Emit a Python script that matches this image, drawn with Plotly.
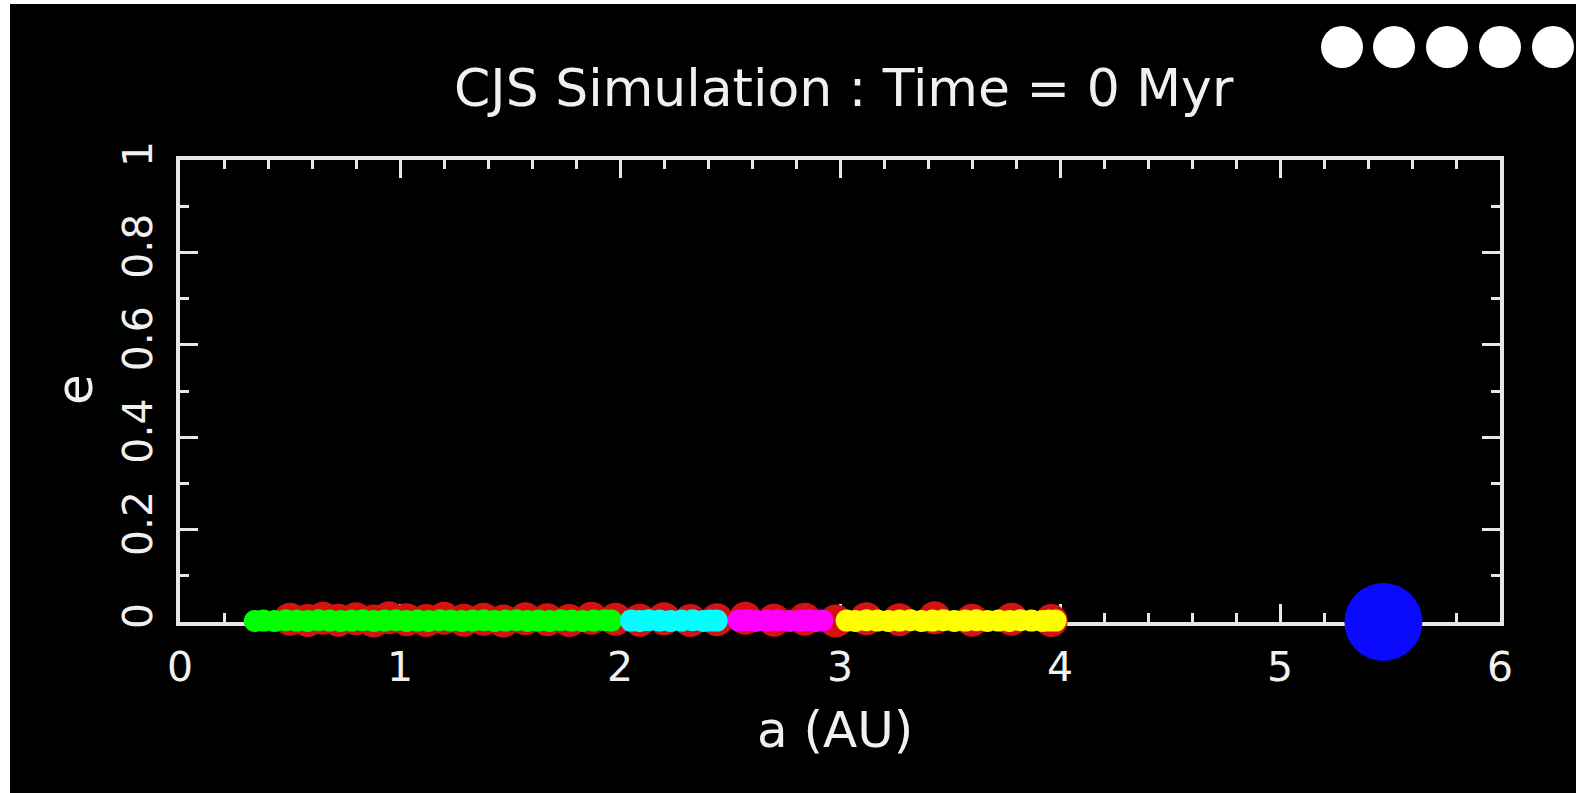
import plotly.graph_objects as go

# ---- data ----
title_text = "CJS Simulation : Time = 0 Myr"
x_title = "a (AU)"
y_title = "e"
x_ticks = [0, 1, 2, 3, 4, 5, 6]
y_ticks = [0, 0.2, 0.4, 0.6, 0.8, 1.0]
y_ticktext = ["0", "0.2", "0.4", "0.6", "0.8", "1"]

# planetary embryos (red)
embryo_a = [0.50, 0.58, 0.65, 0.72, 0.80, 0.88, 0.95, 1.03, 1.12, 1.20, 1.29, 1.38,
            1.47, 1.57, 1.67, 1.77, 1.87, 1.98, 2.09, 2.20, 2.32, 2.44, 2.57, 2.70,
            2.84, 2.98, 3.12, 3.27, 3.43, 3.60, 3.78, 3.96]
embryo_e = [0.006, 0.003, 0.008, 0.004, 0.007, 0.002, 0.009, 0.005, 0.003, 0.008, 0.004, 0.006,
            0.002, 0.007, 0.005, 0.003, 0.008, 0.006, 0.004, 0.007, 0.003, 0.005, 0.008, 0.004,
            0.006, 0.002, 0.007, 0.005, 0.009, 0.004, 0.006, 0.003]

# planetesimals, by zone
green_a = [0.34, 0.38, 0.43, 0.48, 0.53, 0.58, 0.63, 0.68, 0.73, 0.78, 0.83, 0.88,
           0.93, 0.98, 1.03, 1.08, 1.13, 1.18, 1.23, 1.28, 1.33, 1.38, 1.43, 1.48,
           1.53, 1.58, 1.63, 1.68, 1.73, 1.78, 1.83, 1.88, 1.93, 1.96]
green_e = [0.002, 0.003, 0.002, 0.004, 0.003, 0.002, 0.004, 0.003, 0.002, 0.003, 0.004, 0.002,
           0.003, 0.004, 0.002, 0.003, 0.002, 0.004, 0.003, 0.002, 0.003, 0.004, 0.002, 0.003,
           0.004, 0.002, 0.003, 0.002, 0.004, 0.003, 0.002, 0.003, 0.004, 0.003]
cyan_a = [2.05, 2.09, 2.13, 2.18, 2.23, 2.28, 2.33, 2.38, 2.41, 2.44]
cyan_e = [0.003, 0.002, 0.004, 0.003, 0.002, 0.003, 0.004, 0.002, 0.003, 0.003]
magenta_a = [2.54, 2.58, 2.62, 2.67, 2.72, 2.77, 2.82, 2.86, 2.89, 2.92]
magenta_e = [0.003, 0.004, 0.002, 0.003, 0.004, 0.002, 0.003, 0.004, 0.002, 0.003]
yellow_a = [3.03, 3.07, 3.12, 3.17, 3.22, 3.27, 3.32, 3.37, 3.42, 3.47, 3.52, 3.57,
            3.62, 3.67, 3.72, 3.77, 3.82, 3.87, 3.92, 3.95, 3.98]
yellow_e = [0.003, 0.002, 0.004, 0.003, 0.002, 0.003, 0.004, 0.002, 0.003, 0.004, 0.002, 0.003,
            0.004, 0.002, 0.003, 0.002, 0.004, 0.003, 0.002, 0.003, 0.003]

# Jupiter
jupiter_a = [5.47]
jupiter_e = [0.0]

# ---- figure ----
W, H = 1576, 793
ML, MR, MT, MB = 180, 76, 160, 171
PW, PH = W - ML - MR, H - MT - MB
FONT = "DejaVu Sans"
AX = "#e6e6e6"

def px_to_paper_x(px):
    return (px - ML) / PW

def px_to_paper_y(py):
    return (H - MB - py) / PH

fig = go.Figure()
fig.add_trace(go.Scatter(x=embryo_a, y=embryo_e, mode="markers",
                         marker=dict(size=33, color="#d41212", line=dict(width=0)),
                         cliponaxis=False, hoverinfo="skip"))
for xs, ys, col in [(green_a, green_e, "#00ff00"), (cyan_a, cyan_e, "#00ffff"),
                    (magenta_a, magenta_e, "#ff00ff"), (yellow_a, yellow_e, "#ffff00")]:
    fig.add_trace(go.Scatter(x=xs, y=ys, mode="markers",
                             marker=dict(size=22, color=col, line=dict(width=0)),
                             cliponaxis=False, hoverinfo="skip"))
fig.add_trace(go.Scatter(x=jupiter_a, y=jupiter_e, mode="markers",
                         marker=dict(size=78, color="#0a0aff", line=dict(width=0)),
                         cliponaxis=False, hoverinfo="skip"))

axis_common = dict(
    showgrid=False, zeroline=False, showline=True, linewidth=4, linecolor=AX,
    ticks="inside", ticklen=18, tickwidth=3, tickcolor=AX, mirror="allticks",
    tickfont=dict(family=FONT, size=41, color="#f0f0f0"), layer="below traces",
    fixedrange=True,
)

shapes = []
# white frame strips at top and left
shapes.append(dict(type="rect", xref="paper", yref="paper",
                   x0=px_to_paper_x(0), x1=px_to_paper_x(10),
                   y0=px_to_paper_y(H), y1=px_to_paper_y(0),
                   fillcolor="white", line=dict(width=0), layer="below"))
shapes.append(dict(type="rect", xref="paper", yref="paper",
                   x0=px_to_paper_x(0), x1=px_to_paper_x(W),
                   y0=px_to_paper_y(4), y1=px_to_paper_y(0),
                   fillcolor="white", line=dict(width=0), layer="below"))
# five white dots, top right
for cx in [1342, 1394, 1447, 1500, 1553]:
    shapes.append(dict(type="circle", xref="paper", yref="paper",
                       x0=px_to_paper_x(cx - 21), x1=px_to_paper_x(cx + 21),
                       y0=px_to_paper_y(47 + 21), y1=px_to_paper_y(47 - 21),
                       fillcolor="white", line=dict(width=0)))

fig.update_layout(
    width=W, height=H,
    margin=dict(l=ML, r=MR, t=MT, b=MB, pad=0),
    paper_bgcolor="black", plot_bgcolor="black",
    showlegend=False,
    xaxis=dict(range=[0, 6], tickvals=x_ticks, minor=dict(dtick=0.2, ticks="inside", ticklen=9,
               tickwidth=3, tickcolor=AX), ticklabelstandoff=6, **axis_common),
    yaxis=dict(range=[0, 1], tickvals=y_ticks, ticktext=y_ticktext, tickangle=-90,
               minor=dict(dtick=0.1, ticks="inside", ticklen=9, tickwidth=3, tickcolor=AX),
               ticklabelstandoff=8, **axis_common),
    shapes=shapes,
    annotations=[
        dict(text=title_text, xref="paper", yref="paper",
             x=px_to_paper_x(844), y=px_to_paper_y(88), showarrow=False,
             xanchor="center", yanchor="middle",
             font=dict(family=FONT, size=52, color="#f0f0f0")),
        dict(text=x_title, xref="paper", yref="paper",
             x=px_to_paper_x(835), y=px_to_paper_y(730), showarrow=False,
             xanchor="center", yanchor="middle",
             font=dict(family=FONT, size=50, color="#f0f0f0")),
        dict(text=y_title, xref="paper", yref="paper",
             x=px_to_paper_x(75), y=px_to_paper_y(390), showarrow=False, textangle=-90,
             xanchor="center", yanchor="middle",
             font=dict(family=FONT, size=50, color="#f0f0f0")),
    ],
)

fig.write_html("out.html", config={"displayModeBar": False})
